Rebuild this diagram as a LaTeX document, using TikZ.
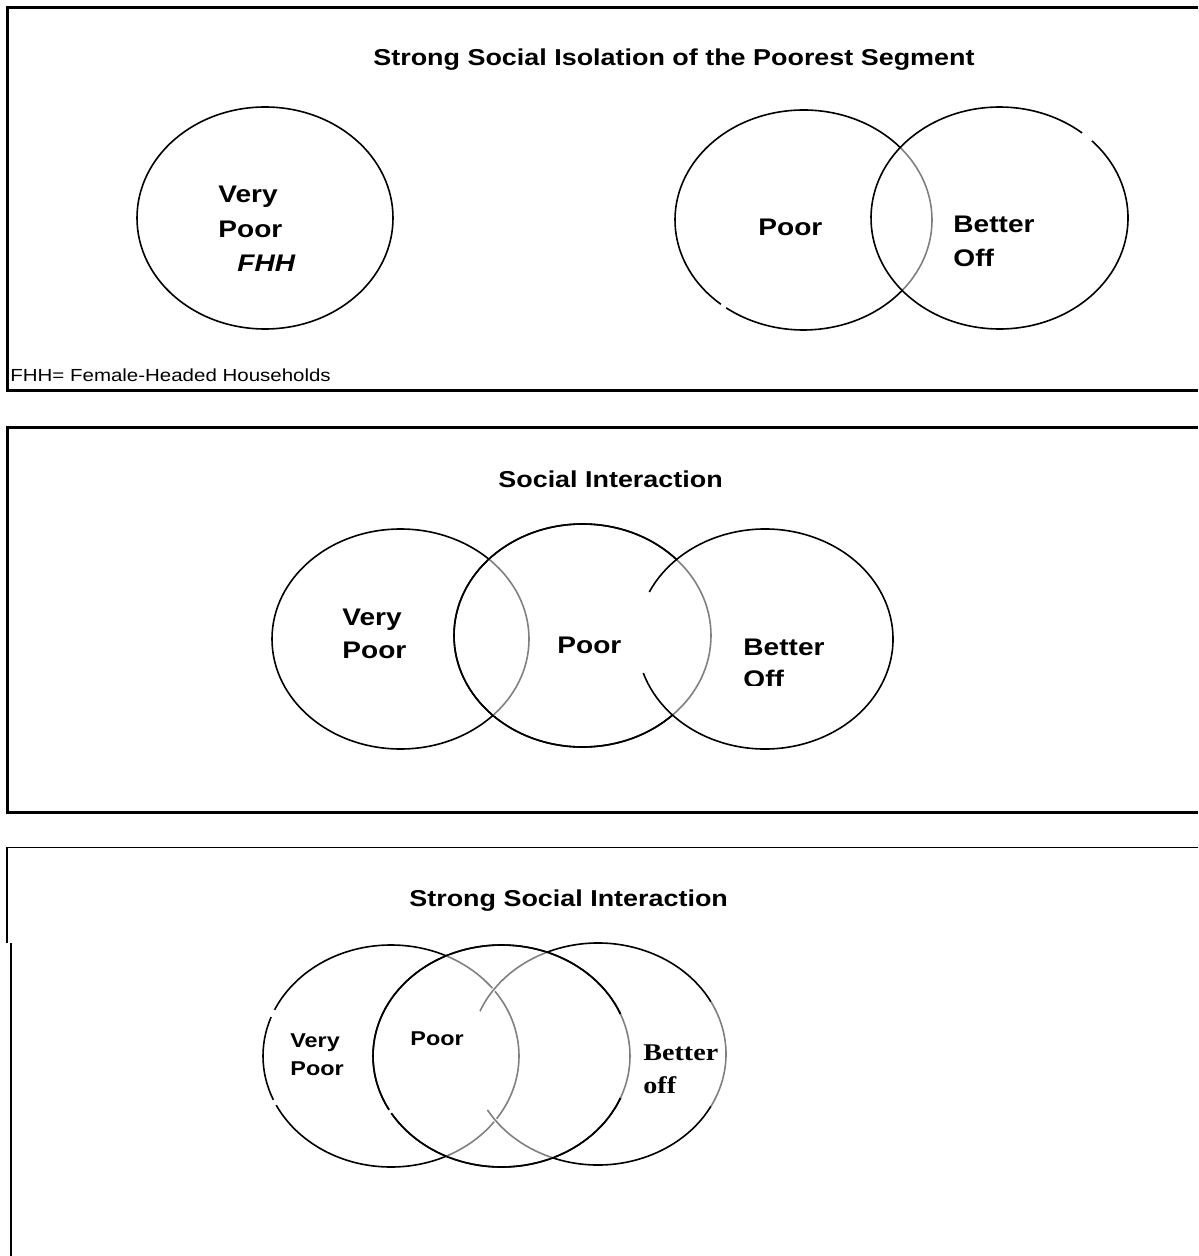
\documentclass[tikz,border=0pt]{standalone}
\usepackage{fontspec}
\setmainfont{Liberation Sans}[FakeStretch=1.17]
\newfontfamily\tnr{Liberation Serif}[FakeStretch=1.17]
\begin{document}
\begin{tikzpicture}[x=0.5pt,y=-0.5pt,
  frame/.style={line width=1.35pt},
  thinframe/.style={line width=0.9pt},
  ring/.style={line width=0.8pt,draw=black},
  ringgray/.style={line width=0.8pt,draw=black!50},
  erase/.style={line width=1.8pt,draw=white},
  lbl/.style={font=\bfseries\fontsize{12}{14}\selectfont,anchor=base west,inner sep=0pt},
  lblit/.style={font=\bfseries\itshape\fontsize{12}{14}\selectfont,anchor=base west,inner sep=0pt},
  ttl/.style={font=\bfseries\fontsize{11.5}{14}\selectfont,anchor=base west,inner sep=0pt},
  small/.style={font=\bfseries\fontsize{10}{12}\selectfont,anchor=base west,inner sep=0pt},
  seriflbl/.style={font=\tnr\bfseries\fontsize{12}{14}\selectfont,anchor=base west,inner sep=0pt},
  note/.style={font=\fontsize{8.75}{10}\selectfont,anchor=base west,inner sep=0pt}]
\useasboundingbox (0,0) rectangle (1198,1256);

% ---------- frames ----------
\draw[frame] (1198,7.3) -- (7.3,7.3) -- (7.3,390.7) -- (1198,390.7);
\draw[frame] (1198,427.3) -- (7.3,427.3) -- (7.3,812.3) -- (1198,812.3);
\draw[thinframe] (1198,847.5) -- (7,847.5) -- (7,943);
\draw[thinframe] (10.8,943) -- (10.8,1256);

% ---------- panel 1 ----------
\coordinate (a1) at (265,218);
\coordinate (a2) at (803.5,220);
\coordinate (a3) at (999.5,218);
\draw[ring] (a1) ellipse [x radius=128,y radius=111];
\draw[ring] ([shift={(130:128.5 and 110)}]a2) arc[start angle=130,end angle=487,x radius=128.5,y radius=110];
\begin{scope}
  \clip (a3) ellipse [x radius=128.5,y radius=111];
  \draw[erase] (a2) ellipse [x radius=128.5,y radius=110];
  \draw[ringgray] (a2) ellipse [x radius=128.5,y radius=110];
\end{scope}
\draw[ring] ([shift={(-44:128.5 and 111)}]a3) arc[start angle=-44,end angle=310,x radius=128.5,y radius=111];

\node[ttl] (t1) at (373,66) {Strong Social Isolation of the Poorest Segment};
\node[lbl] (vp1a) at (218,203) {Very};
\node[lbl] (vp1b) at (218,238) {Poor};
\node[lblit] (fhh) at (237,272) {FHH};
\node[lbl] (p1) at (758,236) {Poor};
\node[lbl] (bo1a) at (953,233) {Better};
\node[lbl] (bo1b) at (953,267) {Off};
\node[note] (fn) at (10,382) {FHH= Female-Headed Households};

% ---------- panel 2 ----------
\coordinate (b1) at (400.5,639);
\coordinate (b2) at (582.5,635.5);
\coordinate (b3) at (765,639);
\draw[ring] (b1) ellipse [x radius=128.5,y radius=110];
\draw[ring] (b2) ellipse [x radius=128.5,y radius=111.5];
\begin{scope}
  \clip (b2) ellipse [x radius=128.5,y radius=111.5];
  \draw[erase] (b1) ellipse [x radius=128.5,y radius=110];
  \draw[ringgray] (b1) ellipse [x radius=128.5,y radius=110];
\end{scope}
\draw[ring] (b2) ellipse [x radius=128.5,y radius=111.5];
\begin{scope}
  \clip (b3) ellipse [x radius=128,y radius=110];
  \draw[erase] (b2) ellipse [x radius=128.5,y radius=111.5];
  \draw[ringgray] (b2) ellipse [x radius=128.5,y radius=111.5];
\end{scope}
\draw[ring] ([shift={(205.3:128 and 110)}]b3) arc[start angle=205.3,end angle=522,x radius=128,y radius=110];

\node[ttl] (t2) at (498,487) {Social Interaction};
\node[lbl] (vp2a) at (342,625) {Very};
\node[lbl] (vp2b) at (342,658) {Poor};
\node[lbl] (p2) at (557,653) {Poor};
\node[lbl] (bo2a) at (743,655) {Better};
\begin{scope}
  \clip (700,600) rectangle (900,685);
  \node[lbl] (bo2b) at (743,687) {Off};
\end{scope}

% ---------- panel 3 ----------
\coordinate (c1) at (391,1056);
\coordinate (c2) at (501.5,1056);
\coordinate (c3) at (598,1054);
\draw[ring] (c1) ellipse [x radius=128,y radius=111];
\draw[ring] (c2) ellipse [x radius=128.5,y radius=111];
\draw[ring] ([shift={(202.8:128 and 111)}]c3) arc[start angle=202.8,end angle=509.7,x radius=128,y radius=111];
\begin{scope}
  \clip (c2) ellipse [x radius=128.5,y radius=111];
  \draw[erase] (c1) ellipse [x radius=128,y radius=111];
  \draw[ringgray] (c1) ellipse [x radius=128,y radius=111];
  \draw[erase] ([shift={(202.8:128 and 111)}]c3) arc[start angle=202.8,end angle=509.7,x radius=128,y radius=111];
  \draw[ringgray] ([shift={(202.8:128 and 111)}]c3) arc[start angle=202.8,end angle=509.7,x radius=128,y radius=111];
\end{scope}
\draw[ring] (c2) ellipse [x radius=128.5,y radius=111];
\draw[erase] ([shift={(-22:128.5 and 111)}]c2) arc[start angle=-22,end angle=22,x radius=128.5,y radius=111];
\draw[ringgray] ([shift={(-22:128.5 and 111)}]c2) arc[start angle=-22,end angle=22,x radius=128.5,y radius=111];
\draw[erase] ([shift={(-28:128 and 111)}]c3) arc[start angle=-28,end angle=28,x radius=128,y radius=111];
\draw[ringgray] ([shift={(-28:128 and 111)}]c3) arc[start angle=-28,end angle=28,x radius=128,y radius=111];
% small breaks
\draw[erase] ([shift={(200.6:128 and 111)}]c1) arc[start angle=200.6,end angle=204.5,x radius=128,y radius=111];
\draw[erase] ([shift={(153.8:128 and 111)}]c1) arc[start angle=153.8,end angle=156.7,x radius=128,y radius=111];
\draw[erase] ([shift={(149.1:128.5 and 111)}]c2) arc[start angle=149.1,end angle=150.9,x radius=128.5,y radius=111];

\node[ttl] (t3) at (409,906) {Strong Social Interaction};
\node[small] (vp3a) at (290,1047) {Very};
\node[small] (vp3b) at (290,1075) {Poor};
\node[small] (p3) at (410,1045) {Poor};
\node[seriflbl] (bo3a) at (643,1060) {Better};
\node[seriflbl] (bo3b) at (643,1093) {off};
\end{tikzpicture}
\end{document}
